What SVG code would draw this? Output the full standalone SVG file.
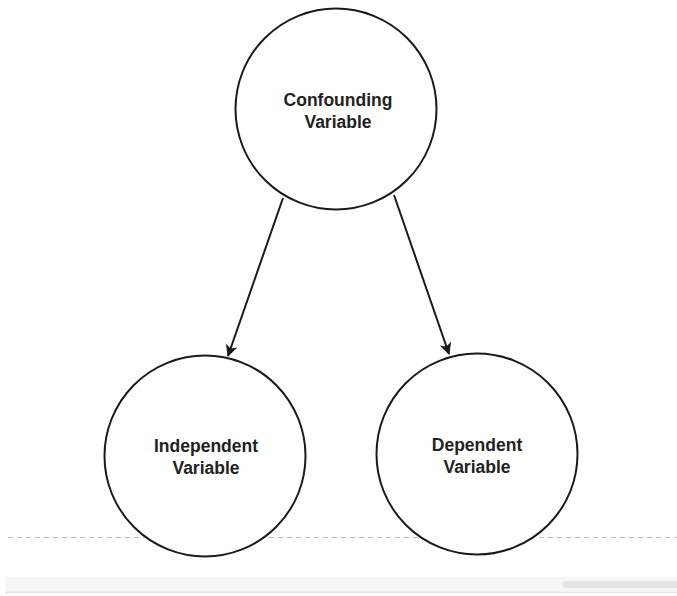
<svg xmlns="http://www.w3.org/2000/svg" width="677" height="596" viewBox="0 0 677 596">
<style>
.node{fill:#fff;stroke:#1a1a1a;stroke-width:2}
.lbl{font-family:"Liberation Sans",Arial,sans-serif;font-weight:bold;font-size:17.5px;fill:#222;text-anchor:middle}
.edge{stroke:#1a1a1a;stroke-width:2;fill:none;marker-end:url(#arr)}
</style>
<defs>
<marker id="arr" viewBox="0 0 12 12" refX="11" refY="6" markerWidth="12" markerHeight="12" markerUnits="userSpaceOnUse" orient="auto">
<path d="M0,0 L12,6 L0,12 L3,6 Z" fill="#1a1a1a"/>
</marker>
</defs>
<rect width="677" height="596" fill="#fff"/>
<line x1="8" y1="537.5" x2="677" y2="537.5" stroke="#bdbdbd" stroke-width="1" stroke-dasharray="5,4"/>
<rect x="5" y="577" width="672" height="15" fill="#f6f6f6"/>
<line x1="5" y1="592.5" x2="677" y2="592.5" stroke="#e2e2e2" stroke-width="1.5"/>
<rect x="563" y="581" width="120" height="7" rx="3.5" fill="#e4e4e4"/>
<g id="edges">
<line class="edge" x1="283" y1="198" x2="228" y2="356"/>
<line class="edge" x1="394" y1="195" x2="449" y2="354"/>
</g>
<g id="confounding">
<circle class="node" cx="336" cy="109" r="100.5"/>
<text class="lbl" x="338" y="106">Confounding</text>
<text class="lbl" x="338" y="128">Variable</text>
</g>
<g id="independent">
<circle class="node" cx="205" cy="456" r="100.5"/>
<text class="lbl" x="206" y="452">Independent</text>
<text class="lbl" x="206" y="474">Variable</text>
</g>
<g id="dependent">
<circle class="node" cx="477" cy="454" r="100.5"/>
<text class="lbl" x="477" y="451">Dependent</text>
<text class="lbl" x="477" y="473">Variable</text>
</g>
</svg>
